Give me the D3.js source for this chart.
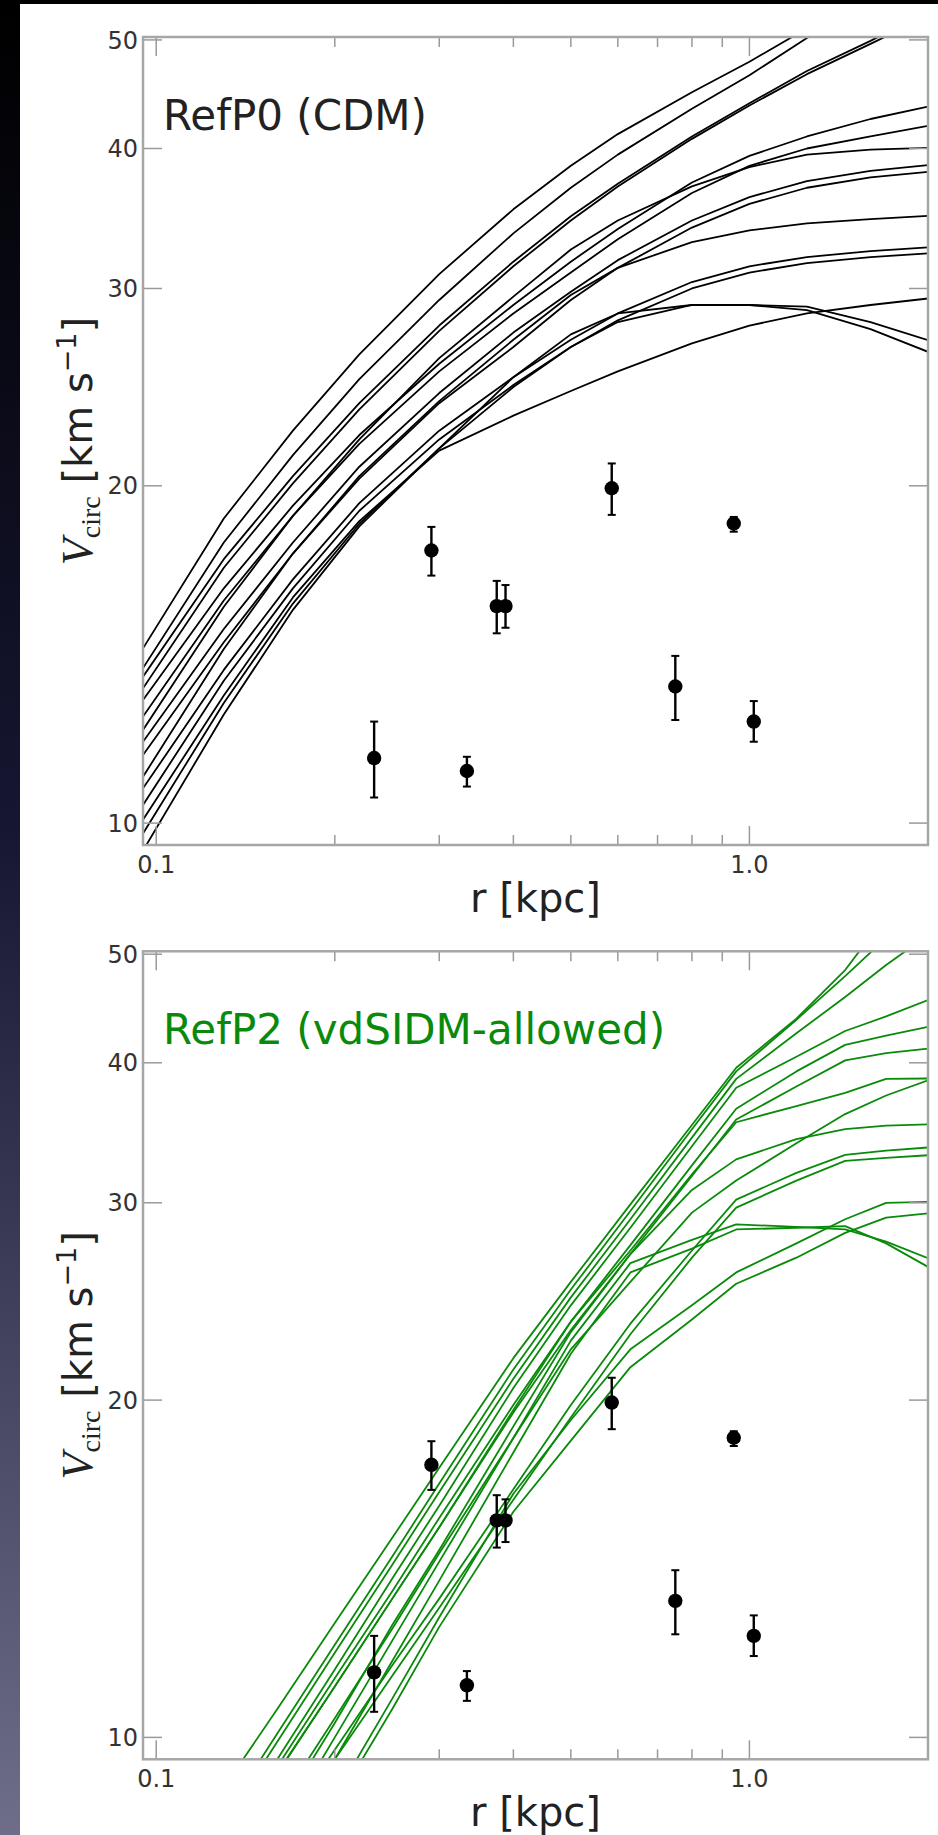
<!DOCTYPE html>
<html>
<head>
<meta charset="utf-8">
<script src="https://cdn.jsdelivr.net/npm/d3@7"></script>
<style>
  html, body { margin: 0; padding: 0; background: #000; }
  svg { display: block; }
</style>
</head>
<body>
<div id="chart"></div>
<script>
// --- data -------------------------------------------------------------

// radii (kpc) at which the simulated rotation curves are sampled
const radiiCDM = [0.095, 0.13, 0.17, 0.22, 0.3, 0.4, 0.5, 0.6, 0.8, 1.0, 1.25, 1.6, 2.0];

// RefP0 (CDM) circular velocity curves, km/s
const curvesCDM = [
    [14.32, 18.7, 22.4, 26.2, 30.9, 35.3, 38.6, 41.2, 44.9, 47.8, 51.2, 55.0, 58.0],
    [13.75, 17.8, 21.3, 24.9, 29.3, 33.6, 36.9, 39.5, 43.4, 46.5, 50.2, 54.0, 57.0],
    [13.51, 17.2, 20.4, 23.7, 27.8, 31.7, 34.8, 37.2, 41.0, 43.9, 46.9, 49.9, 53.0],
    [13.19, 16.9, 20.1, 23.4, 27.5, 31.4, 34.5, 37.0, 40.8, 43.7, 46.6, 49.6, 52.5],
    [12.88, 16.2, 19.2, 22.2, 25.7, 29.0, 31.7, 33.9, 37.3, 39.4, 41.0, 42.5, 43.6],
    [12.45, 15.8, 18.8, 21.8, 25.3, 28.5, 31.0, 33.2, 36.5, 38.6, 40.0, 41.0, 41.9],
    [12.11, 15.6, 18.8, 22.0, 26.0, 29.5, 32.5, 34.5, 37.0, 38.5, 39.5, 39.9, 40.05],
    [11.82, 14.9, 17.8, 20.8, 24.2, 27.4, 29.8, 31.8, 34.5, 36.2, 37.4, 38.2, 38.65],
    [11.5, 14.5, 17.4, 20.3, 23.7, 26.6, 29.3, 31.3, 34.0, 35.7, 36.9, 37.7, 38.13],
    [11.0, 14.3, 17.4, 20.4, 23.8, 27.0, 29.6, 31.3, 33.0, 33.8, 34.3, 34.6, 34.83],
    [10.74, 13.7, 16.5, 19.3, 22.4, 25.0, 27.0, 28.5, 30.4, 31.4, 32.0, 32.4, 32.64],
    [10.38, 13.4, 16.2, 19.0, 22.0, 24.6, 26.6, 28.1, 30.0, 31.0, 31.6, 32.0, 32.24],
    [10.07, 13.0, 15.9, 18.6, 21.5, 23.1, 24.3, 25.3, 26.8, 27.8, 28.5, 29.0, 29.39],
    [9.79, 12.8, 15.7, 18.5, 21.6, 24.5, 26.6, 28.0, 29.0, 29.0, 28.9, 28.0, 26.98],
    [9.45, 12.5, 15.5, 18.4, 21.6, 25.0, 27.3, 28.5, 29.0, 29.0, 28.7, 27.6, 26.34]
];

const radiiSIDM = [0.13, 0.16, 0.2, 0.25, 0.3, 0.4, 0.5, 0.63, 0.8, 0.95, 1.2, 1.45, 1.7, 2.0];

// RefP2 (vdSIDM-allowed) circular velocity curves, km/s
const curvesSIDM = [
    [9.02, 10.6, 12.65, 15.07, 17.4, 21.8, 25.5, 29.9, 35.2, 39.6, 43.8, 48.4, 54.1, 60.0],
    [8.5, 10.08, 12.1, 14.5, 16.85, 21.3, 25.1, 29.5, 34.9, 39.3, 43.7, 47.8, 51.7, 55.0],
    [8.37, 9.91, 11.9, 14.26, 16.56, 20.9, 24.7, 29.0, 34.3, 38.7, 42.5, 45.8, 48.9, 52.0],
    [8.04, 9.56, 11.5, 13.86, 16.1, 20.5, 24.3, 28.5, 33.7, 38.0, 40.5, 42.7, 44.0, 45.5],
    [7.96, 9.42, 11.29, 13.5, 15.7, 19.8, 23.5, 27.5, 32.4, 36.4, 39.3, 41.5, 42.3, 43.06],
    [7.84, 9.28, 11.1, 13.3, 15.4, 19.5, 23.1, 27.0, 31.7, 35.6, 38.1, 40.2, 40.8, 41.19],
    [7.9, 9.3, 11.1, 13.3, 15.4, 19.6, 23.5, 27.2, 31.8, 35.4, 36.6, 37.6, 38.7, 38.73],
    [7.3, 8.67, 10.4, 12.5, 14.6, 18.5, 22.2, 25.5, 29.4, 31.4, 33.9, 36.0, 37.4, 38.59],
    [7.1, 8.5, 10.3, 12.6, 14.7, 18.95, 23.0, 27.0, 30.8, 32.8, 34.2, 34.9, 35.15, 35.24],
    [6.99, 8.2, 9.75, 11.6, 13.3, 16.65, 19.8, 23.4, 27.2, 30.2, 31.9, 33.1, 33.4, 33.61],
    [6.9, 8.06, 9.56, 11.35, 13.05, 16.3, 19.3, 22.9, 26.8, 29.7, 31.4, 32.7, 32.9, 33.08],
    [6.0, 7.24, 8.85, 10.83, 12.8, 16.5, 19.2, 22.2, 24.3, 26.0, 27.6, 29.0, 30.0, 30.06],
    [5.9, 7.1, 8.7, 10.6, 12.55, 15.9, 18.4, 21.4, 23.6, 25.4, 26.8, 28.2, 29.1, 29.35],
    [6.8, 8.2, 10.0, 12.2, 14.35, 18.5, 22.6, 26.5, 27.8, 28.7, 28.55, 28.4, 27.7, 26.77],
    [6.5, 7.8, 9.56, 11.7, 13.8, 17.96, 22.0, 26.0, 27.3, 28.4, 28.5, 28.6, 27.6, 26.3]
];

// observed dwarf spheroidals: half-light radius and velocity with error range
const obsRadius = [0.233, 0.291, 0.334, 0.375, 0.388, 0.586, 0.750, 0.941, 1.017];
const obsVcirc  = [11.43, 17.51, 11.13, 15.62, 15.62, 19.90, 13.24, 18.51, 12.32];
const obsLow    = [10.54, 16.63, 10.78, 14.77, 14.94, 18.84, 12.36, 18.20, 11.82];
const obsHigh   = [12.32, 18.38, 11.46, 16.45, 16.31, 20.94, 14.10, 18.76, 12.85];

const yTicks = [10, 20, 30, 40, 50];
const xMajorTicks = [0.1, 1.0];
const xMinorTicks = [0.2, 0.3, 0.4, 0.5, 0.6, 0.7, 0.8, 0.9];
const xTickLabels = ['0.1', '1.0'];

// --- layout -----------------------------------------------------------

const W = 938, H = 1835;
const plotLeft = 143, plotRight = 928;
const panelTop = 37, panelBottom = 845;
const panelShift = 914.3;   // vertical offset of the lower panel
const tickColor = '#9a9a9a';
const spineColor = '#a6a6a6';

const svg = d3.select('#chart')
    .append('svg')
    .attr('width', W)
    .attr('height', H);

// slide background: dark gradient strip on the left, black band on top
const defs = svg.append('defs');
const bg = defs.append('linearGradient')
    .attr('id', 'slideGrad')
    .attr('x1', 0).attr('y1', 0).attr('x2', 0).attr('y2', 1);
bg.append('stop').attr('offset', '0%').attr('stop-color', '#000000');
bg.append('stop').attr('offset', '45%').attr('stop-color', '#161632');
bg.append('stop').attr('offset', '100%').attr('stop-color', '#6f6e89');

svg.append('rect').attr('width', W).attr('height', H).attr('fill', 'url(#slideGrad)');
svg.append('rect').attr('x', 20).attr('y', 4).attr('width', W - 20).attr('height', H - 4)
    .attr('fill', '#ffffff');

const x = d3.scaleLog().domain([0.095, 2.0]).range([plotLeft, plotRight]);

function drawPanel(offset, radii, curves, color, title) {
    const y = d3.scaleLog().domain([9.56, 50.3])
        .range([panelBottom + offset, panelTop + offset]);
    const g = svg.append('g');
    const clipId = 'clip' + Math.round(offset);

    defs.append('clipPath').attr('id', clipId)
        .append('rect')
        .attr('x', plotLeft).attr('y', panelTop + offset)
        .attr('width', plotRight - plotLeft)
        .attr('height', panelBottom - panelTop);

    // simulated curves
    const line = d3.line()
        .x((d, i) => x(radii[i]))
        .y(d => y(d));

    g.append('g')
        .attr('clip-path', `url(#${clipId})`)
        .selectAll('path')
        .data(curves)
        .join('path')
        .attr('d', line)
        .attr('fill', 'none')
        .attr('stroke', color)
        .attr('stroke-width', 1.8)
        .attr('stroke-linejoin', 'round');

    // ticks (pointing inwards, on all four sides)
    const ticks = g.append('g').attr('stroke', tickColor).attr('stroke-width', 1.5);
    yTicks.forEach(v => {
        ticks.append('line').attr('x1', plotLeft).attr('x2', plotLeft + 19)
            .attr('y1', y(v)).attr('y2', y(v));
        ticks.append('line').attr('x1', plotRight).attr('x2', plotRight - 19)
            .attr('y1', y(v)).attr('y2', y(v));
    });
    const top = panelTop + offset, bottom = panelBottom + offset;
    xMajorTicks.forEach(r => {
        ticks.append('line').attr('x1', x(r)).attr('x2', x(r)).attr('y1', bottom).attr('y2', bottom - 19);
        ticks.append('line').attr('x1', x(r)).attr('x2', x(r)).attr('y1', top).attr('y2', top + 19);
    });
    xMinorTicks.forEach(r => {
        ticks.append('line').attr('x1', x(r)).attr('x2', x(r)).attr('y1', bottom).attr('y2', bottom - 10);
        ticks.append('line').attr('x1', x(r)).attr('x2', x(r)).attr('y1', top).attr('y2', top + 10);
    });

    // frame
    g.append('rect')
        .attr('x', plotLeft).attr('y', top)
        .attr('width', plotRight - plotLeft).attr('height', bottom - top)
        .attr('fill', 'none')
        .attr('stroke', spineColor)
        .attr('stroke-width', 2.5);

    // observed points with error bars
    const obs = g.append('g');
    obsRadius.forEach((r, i) => {
        const cx = x(r);
        obs.append('line').attr('x1', cx).attr('x2', cx)
            .attr('y1', y(obsLow[i])).attr('y2', y(obsHigh[i]))
            .attr('stroke', '#000').attr('stroke-width', 2.4);
        [obsLow[i], obsHigh[i]].forEach(v => {
            obs.append('line').attr('x1', cx - 4).attr('x2', cx + 4)
                .attr('y1', y(v)).attr('y2', y(v))
                .attr('stroke', '#000').attr('stroke-width', 2);
        });
        obs.append('circle').attr('cx', cx).attr('cy', y(obsVcirc[i]))
            .attr('r', 7.2).attr('fill', '#000');
    });

    // tick labels
    const labels = g.append('g')
        .attr('font-family', 'DejaVu Sans')
        .attr('font-size', 24)
        .attr('fill', '#333');
    yTicks.forEach(v => {
        labels.append('text')
            .attr('x', plotLeft - 5).attr('y', y(v))
            .attr('dy', '0.36em')
            .attr('text-anchor', 'end')
            .text(v);
    });
    xMajorTicks.forEach((r, i) => {
        labels.append('text')
            .attr('x', x(r)).attr('y', bottom + 28)
            .attr('text-anchor', 'middle')
            .text(xTickLabels[i]);
    });

    // axis titles
    g.append('text')
        .attr('x', (plotLeft + plotRight) / 2).attr('y', bottom + 67)
        .attr('text-anchor', 'middle')
        .attr('font-family', 'DejaVu Sans')
        .attr('font-size', 40)
        .attr('fill', '#222')
        .text('r [kpc]');

    const yl = g.append('text')
        .attr('transform', `translate(92,${(top + bottom) / 2}) rotate(-90)`)
        .attr('text-anchor', 'middle')
        .attr('font-family', 'DejaVu Sans')
        .attr('font-size', 40)
        .attr('fill', '#222');
    yl.append('tspan').attr('font-family', 'Liberation Serif').attr('font-style', 'italic')
        .attr('font-size', 44).text('V');
    yl.append('tspan').attr('font-family', 'Liberation Serif').attr('font-size', 28)
        .attr('dy', 8).text('circ');
    yl.append('tspan').attr('dy', -8).text(' [km s');
    yl.append('tspan').attr('font-size', 27).attr('dy', -16).text('\u22121');
    yl.append('tspan').attr('dy', 16).text(']');

    // panel title
    g.append('text')
        .attr('x', 163).attr('y', 130 + offset)
        .attr('font-family', 'DejaVu Sans')
        .attr('font-size', 42)
        .attr('fill', color === '#000' ? '#222' : color)
        .text(title);
}

drawPanel(0, radiiCDM, curvesCDM, '#000', 'RefP0 (CDM)');
drawPanel(panelShift, radiiSIDM, curvesSIDM, '#0a8a0a', 'RefP2 (vdSIDM-allowed)');
</script>
</body>
</html>
